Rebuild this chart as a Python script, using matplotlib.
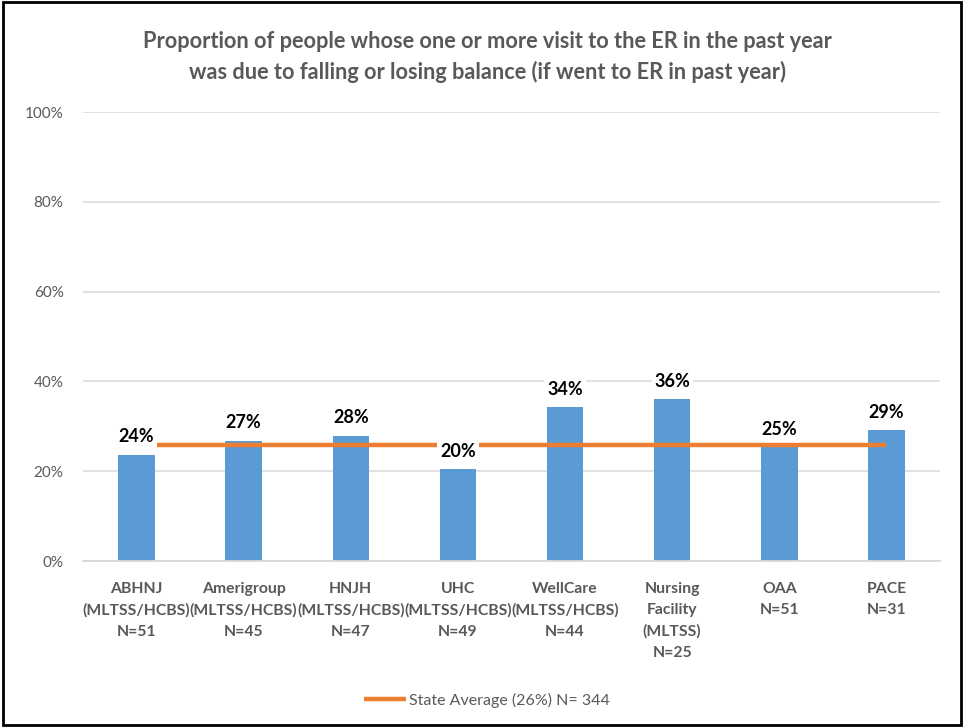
import matplotlib.pyplot as plt
import matplotlib.patches as mpatches
import numpy as np

plt.rcParams["font.family"] = ["Lato", "DejaVu Sans"]

categories = [
    "ABHNJ\n(MLTSS/HCBS)\nN=51",
    "Amerigroup\n(MLTSS/HCBS)\nN=45",
    "HNJH\n(MLTSS/HCBS)\nN=47",
    "UHC\n(MLTSS/HCBS)\nN=49",
    "WellCare\n(MLTSS/HCBS)\nN=44",
    "Nursing\nFacility\n(MLTSS)\nN=25",
    "OAA\nN=51",
    "PACE\nN=31",
]
values = [23.6, 26.8, 27.8, 20.4, 34.2, 36.0, 25.3, 29.1]
value_labels = ["24%", "27%", "28%", "20%", "34%", "36%", "25%", "29%"]
state_avg = 25.8
state_label = "State Average (26%) N= 344"
title = ("Proportion of people whose one or more visit to the ER in the past year\n"
         "was due to falling or losing balance (if went to ER in past year)")

BLUE = "#5B9BD5"
ORANGE = "#ED7D31"
GRAY = "#595959"
GRID = "#D9D9D9"

fig = plt.figure(figsize=(9.64, 7.27), dpi=100)
ax = fig.add_axes([0.0861, 0.2283, 0.889, 0.6176])

x = np.arange(len(categories))
ax.bar(x, values, width=0.34, color=BLUE, zorder=2)
ax.plot(x, [state_avg] * len(x), color=ORANGE, linewidth=3.2,
        solid_capstyle="butt", zorder=3, label=state_label)

for xi, v, lab in zip(x, values, value_labels):
    ax.annotate(lab, (xi, v), xytext=(0, 7), textcoords="offset points",
                ha="center", va="bottom", fontsize=13, fontweight="bold",
                color="black", zorder=4,
                bbox=dict(boxstyle="square,pad=0.15", fc="white", ec="none"))

ax.set_xlim(-0.5, len(x) - 0.5)
ax.set_ylim(0, 100)
ax.set_yticks([0, 20, 40, 60, 80, 100])
ax.set_yticklabels([f"{t}%" for t in [0, 20, 40, 60, 80, 100]],
                   fontsize=11, color=GRAY)
ax.set_xticks(x)
ax.set_xticklabels(categories, fontsize=11.3, fontweight="bold", color=GRAY,
                   linespacing=1.65, va="top")
ax.tick_params(axis="both", length=0)
ax.tick_params(axis="x", pad=15)
ax.tick_params(axis="y", pad=14)
ax.yaxis.grid(True, color=GRID, linewidth=1.1, zorder=0)
ax.set_axisbelow(True)
for s in ["top", "right", "left"]:
    ax.spines[s].set_visible(False)
ax.spines["bottom"].set_color(GRID)
ax.spines["bottom"].set_linewidth(1.3)

fig.text(0.506, 0.922, title, ha="center", va="center", fontsize=15.7,
         fontweight="bold", color=GRAY, linespacing=1.5)

fig.legend(loc="center", bbox_to_anchor=(0.505, 0.037), frameon=False,
           fontsize=11.5, labelcolor=GRAY, handlelength=2.6, handletextpad=0.2)

fig.patches.append(mpatches.Rectangle((0.003, 0.003), 0.994, 0.994,
                                      transform=fig.transFigure, fill=False,
                                      edgecolor="black", linewidth=2))

fig.savefig("out.png", dpi=100)
